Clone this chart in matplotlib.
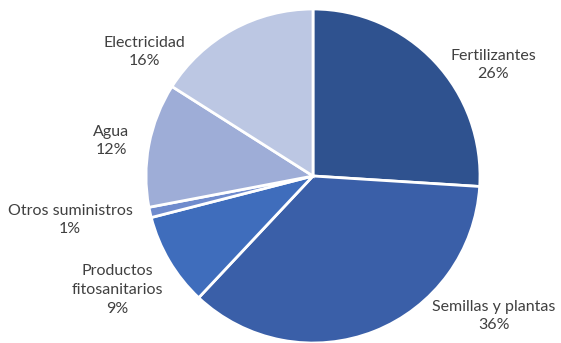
import matplotlib.pyplot as plt

categories = ["Fertilizantes", "Semillas y plantas", "Productos\nfitosanitarios",
              "Otros suministros", "Agua", "Electricidad"]
shares = [26, 36, 9, 1, 12, 16]
colors = ["#2F528F", "#3A5FA8", "#3F6DBC", "#6F8BCD", "#9EADD7", "#BCC7E3"]

# label centres in pixel coords of the 561x343 image
label_px = [(493, 65), (494, 316), (117, 290), (70, 220), (111, 141), (144, 52)]

W, H = 561, 343
cx, cy, R = 313, 176, 167

fig = plt.figure(figsize=(W / 100, H / 100), dpi=100)
ax = fig.add_axes([0, 0, 1, 1])
ax.pie(shares, colors=colors, startangle=90, counterclock=False,
       wedgeprops=dict(edgecolor="white", linewidth=2))
ax.set_aspect("auto")
ax.set_xlim(-cx / R, (W - cx) / R)
ax.set_ylim(-(H - cy) / R, cy / R)
ax.axis("off")

for name, val, (px, py) in zip(categories, shares, label_px):
    ax.text((px - cx) / R, (cy - py) / R, f"{name}\n{val}%", ha="center", va="center",
            fontsize=11.5, color="#404040", family=["Lato", "DejaVu Sans"],
            linespacing=1.45)

fig.savefig("out.png", dpi=100)
